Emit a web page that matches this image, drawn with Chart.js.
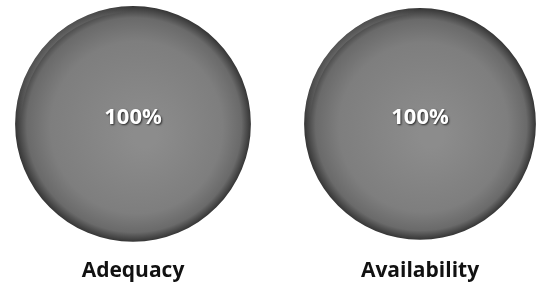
<!DOCTYPE html>
<html>
<head>
<meta charset="utf-8">
<script src="https://cdn.jsdelivr.net/npm/chart.js@4/dist/chart.umd.min.js"></script>
<style>
  body { margin: 0; background: #fff; }
  .wrap { position: absolute; top: 0; width: 268px; height: 287px; }
</style>
</head>
<body>
<div class="wrap" style="left:0"><canvas id="pieA"></canvas></div>
<div class="wrap" style="left:268px"><canvas id="pieB"></canvas></div>
<script>
// one value per pie
const categories = ["Adequacy", "Availability"];
const values = [100, 100];
const valueLabels = ["100%", "100%"];

function shade(ctx) {
  const area = ctx.chart.chartArea;
  if (!area) return "#808080";
  const cx = (area.left + area.right) / 2;
  const cy = (area.top + area.bottom) / 2;
  const r = Math.min(area.right - area.left, area.bottom - area.top) / 2;
  const g = ctx.chart.ctx.createRadialGradient(cx + r * 0.1, cy + r * 0.1, r * 0.1, cx, cy, r);
  g.addColorStop(0, "#8c8c8c");
  g.addColorStop(0.7, "#7e7e7e");
  g.addColorStop(0.9, "#6a6a6a");
  g.addColorStop(1, "#353535");
  return g;
}

const centerText = {
  id: "centerText",
  afterDatasetsDraw(chart) {
    const c = chart.ctx;
    const a = chart.chartArea;
    const cx = (a.left + a.right) / 2;
    const cy = (a.top + a.bottom) / 2;
    const r = Math.min(a.right - a.left, a.bottom - a.top) / 2;
    c.save();
    // light sheen on the upper left rim
    const sheen = c.createLinearGradient(cx - r, cy - r, cx, cy);
    sheen.addColorStop(0, "rgba(255,255,255,0.35)");
    sheen.addColorStop(0.5, "rgba(255,255,255,0)");
    c.beginPath();
    c.arc(cx, cy, r - 3, Math.PI * 0.95, Math.PI * 1.6);
    c.strokeStyle = sheen;
    c.lineWidth = 6;
    c.stroke();
    c.font = "bold 22px 'Open Sans'";
    c.textAlign = "center";
    c.textBaseline = "middle";
    c.shadowColor = "rgba(0,0,0,0.7)";
    c.shadowBlur = 2;
    c.shadowOffsetX = 1;
    c.shadowOffsetY = 1;
    c.fillStyle = "#ffffff";
    c.fillText(chart.options.plugins.centerText.text, cx, cy - 6);
    c.restore();
  }
};

function makePie(id, idx, pad, titleTop) {
  new Chart(document.getElementById(id), {
    type: "pie",
    data: {
      labels: [categories[idx]],
      datasets: [{
        data: [values[idx]],
        backgroundColor: shade,
        borderWidth: 0
      }]
    },
    options: {
      responsive: true,
      maintainAspectRatio: false,
      animation: false,
      layout: { padding: pad },
      plugins: {
        legend: { display: false },
        tooltip: { enabled: false },
        centerText: { text: valueLabels[idx] },
        title: {
          display: true,
          position: "bottom",
          text: categories[idx],
          color: "#111",
          font: { family: "Open Sans", size: 21, weight: "bold" },
          padding: { top: titleTop, bottom: 3 }
        }
      }
    },
    plugins: [centerText]
  });
}

makePie("pieA", 0, { left: 15, right: 17, top: 6, bottom: 0 }, 17);
makePie("pieB", 1, { left: 36, right: 0, top: 8, bottom: 0 }, 19);
</script>
</body>
</html>
